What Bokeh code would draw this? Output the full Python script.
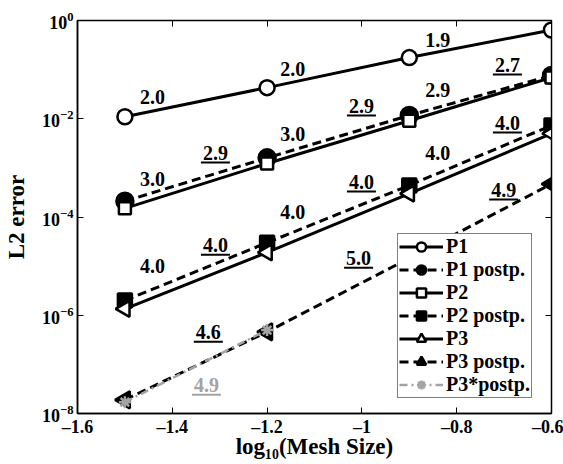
import numpy as np
from bokeh.plotting import figure
from bokeh.models import (FixedTicker, LinearAxis, LogAxis, Legend, LegendItem,
                          CustomJSTickFormatter, ColumnDataSource, Range1d)
from bokeh.embed import file_html
from bokeh.resources import INLINE
from bokeh.core.properties import value

# ---------------- data ----------------
mesh = [-1.5, -1.2, -0.9, -0.6]
p1 = [1.1e-2, 4.3e-2, 1.76e-1, 6.4e-1]
p1_post = [2.1e-4, 1.6e-3, 1.17e-2, 7.6e-2]
p2 = [1.5e-4, 1.23e-3, 9.1e-3, 6.9e-2]
p2_post = [2.0e-6, 3.0e-5, 4.4e-4, 7.3e-3]
p3 = [1.35e-6, 1.9e-5, 3.0e-4, 5.0e-3]
p3_post = [1.9e-8, 4.6e-7, 1.45e-5, 4.7e-4]
p3s_mesh = [-1.5, -1.2]
p3s_post = [1.7e-8, 5.0e-7]

rate_p1 = ["2.0", "2.0", "1.9"]
rate_p2 = ["3.0", "3.0", "2.9"]
rate_p3 = ["4.0", "4.0", "4.0"]
rate_p1_post = ["2.9", "2.9", "2.7"]
rate_p2_post = ["4.0", "4.0", "4.0"]
rate_p3_post = ["4.6", "5.0", "4.9"]
rate_p3s_post = ["4.9"]

x_ticks = [-1.6, -1.4, -1.2, -1.0, -0.8, -0.6]
y_ticks = [1e-8, 1e-6, 1e-4, 1e-2, 1e0]

# label placement (x in data units, y as log10 exponent)
plain_x = [-1.442, -1.146, -0.840]
ul_x = [-1.309, -1.001, -0.693]
ul_x3 = [-1.324, -1.007, -0.701]
p1_lab_e = [-1.548, -0.978, -0.387]
p2_lab_e = [-3.218, -2.301, -1.405]
p3_lab_e = [-4.990, -3.890, -2.688]
p1p_lab_e = [-2.892, -1.935, -1.100]
p2p_lab_e = [-4.766, -3.483, -2.281]
p3p_lab_e = [-6.538, -5.031, -3.646]
p3s_lab_x = [-1.328]
p3s_lab_e = [-7.617]

FONT = "Liberation Serif"
GREY = "#a3a3a3"

p = figure(width=563, height=464, y_axis_type="log", output_backend="svg",
           toolbar_location=None, x_range=Range1d(-1.6, -0.6),
           y_range=Range1d(1e-8, 1e0),
           min_border_left=77, min_border_right=12, min_border_top=20,
           min_border_bottom=51)
p.grid.visible = False
p.outline_line_color = "black"
p.outline_line_width = 1.5
p.background_fill_color = "white"
p.border_fill_color = "white"

# axes
for ax in (p.xaxis[0], p.yaxis[0]):
    ax.major_tick_in = 6
    ax.major_tick_out = 0
    ax.minor_tick_in = 0
    ax.minor_tick_out = 0
    ax.axis_line_width = 1.5
    ax.major_tick_line_width = 1
    ax.major_label_text_font = FONT
    ax.major_label_text_font_style = "bold"
    ax.major_label_text_font_size = "18px"
    ax.major_label_text_color = "black"
    ax.axis_label_text_font = FONT
    ax.axis_label_text_font_style = "bold"
    ax.axis_label_text_font_size = "23px"
    ax.axis_label_text_color = "black"
p.xaxis[0].ticker = FixedTicker(ticks=x_ticks, minor_ticks=[])
p.yaxis[0].ticker = FixedTicker(ticks=y_ticks, minor_ticks=[])
p.xaxis[0].major_label_standoff = 3
p.xaxis[0].formatter = CustomJSTickFormatter(code="""
    var s = (Math.abs(tick - Math.round(tick)) < 1e-9) ? Math.round(tick).toString() : tick.toFixed(1);
    return s.replace('-', '\\u2013');
""")
p.xaxis[0].axis_label = "log\u2081\u2080(Mesh Size)"
p.xaxis[0].axis_label_standoff = -6
p.yaxis[0].axis_label = "L2 error"
p.yaxis[0].axis_label_standoff = 10
p.yaxis[0].major_label_standoff = 4

top_ax = LinearAxis(ticker=FixedTicker(ticks=x_ticks, minor_ticks=[]),
                    major_label_text_font_size="2px", major_label_text_alpha=0.0,
                    major_tick_in=6, major_tick_out=0,
                    minor_tick_in=0, minor_tick_out=0, major_label_standoff=0)
right_ax = LogAxis(ticker=FixedTicker(ticks=y_ticks, minor_ticks=[]),
                   major_label_text_font_size="2px", major_label_text_alpha=0.0,
                   major_tick_in=6, major_tick_out=0,
                   minor_tick_in=0, minor_tick_out=0, major_label_standoff=0)
p.add_layout(top_ax, "above")
p.add_layout(right_ax, "right")

LW = 3
DASH = "9 5"
items = []

def series(xs, ys, label, dash, marker, size, fill, angle=0.0, color="black", lw=LW):
    r_line = p.line(xs, ys, line_color=color, line_width=lw, line_dash=dash)
    r_mark = p.scatter(xs, ys, marker=marker, size=size, angle=angle,
                       line_color=color, fill_color=fill, line_width=2.5)
    items.append(LegendItem(label=label, renderers=[r_line, r_mark]))

series(mesh, p1, "P1", "solid", "circle", 15, "white")
series(mesh, p1_post, "P1 postp.", DASH, "circle", 17, "black")
series(mesh, p2, "P2", "solid", "square", 12, "white")
series(mesh, p2_post, "P2 postp.", DASH, "square", 14, "black")
series(mesh, p3, "P3", "solid", "triangle", 16, "white", angle=np.pi / 2)
series(mesh, p3_post, "P3 postp.", DASH, "triangle", 17, "black", angle=np.pi / 2)
series(p3s_mesh, p3s_post, "P3*postp.", "8 4 2 4", "asterisk", 12, GREY, color=GREY, lw=2.5)

# rate labels
def rate_labels(xs, exps, texts, underline, color="black"):
    ys = [10 ** e for e in exps]
    src = ColumnDataSource(dict(x=xs, y=ys, t=texts))
    p.text(x="x", y="y", text="t", source=src, text_align="center",
           text_baseline="middle", text_font=value(FONT), text_font_style="bold",
           text_font_size="20px", text_color=color, y_offset=-10 if underline else 0)
    if underline:
        p.scatter(x="x", y="y", source=src, marker="dash", size=29,
                  line_color=color, line_width=2)

rate_labels(plain_x, p1_lab_e, rate_p1, False)
rate_labels(plain_x, p2_lab_e, rate_p2, False)
rate_labels(plain_x, p3_lab_e, rate_p3, False)
rate_labels(ul_x, p1p_lab_e, rate_p1_post, True)
rate_labels(ul_x, p2p_lab_e, rate_p2_post, True)
rate_labels(ul_x3, p3p_lab_e, rate_p3_post, True)
rate_labels(p3s_lab_x, p3s_lab_e, rate_p3s_post, True, color=GREY)

legend = Legend(items=items, location=(320, 15), label_text_font=FONT,
                label_text_font_style="bold", label_text_font_size="20px",
                label_text_color="black",
                label_height=23, glyph_height=23, glyph_width=44, spacing=-3,
                padding=1, margin=0, label_standoff=3,
                border_line_color="black", border_line_width=1.5,
                background_fill_color="white", background_fill_alpha=1.0)
p.add_layout(legend)

open("out.html", "w").write(file_html(p, INLINE))
